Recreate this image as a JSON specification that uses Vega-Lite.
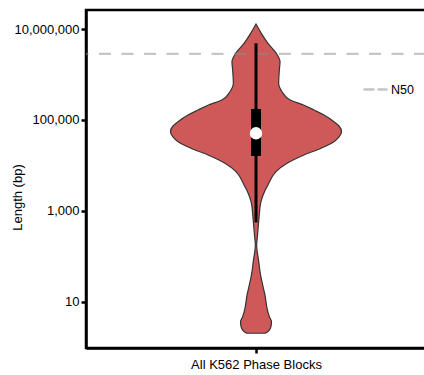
{
  "$schema": "https://vega.github.io/schema/vega-lite/v6.json",
  "width": 340,
  "height": 338,
  "autosize": "none",
  "padding": {"left": 86, "top": 10, "right": 0, "bottom": 27},
  "config": {
    "font": "Liberation Sans",
    "view": {"stroke": "black", "strokeWidth": 2.5},
    "axis": {
      "domainColor": "black", "domainWidth": 2.5, "tickColor": "black", "tickWidth": 2.5, "tickSize": 5,
      "labelColor": "black", "labelFontSize": 13, "titleFontSize": 13, "titleFontWeight": "normal",
      "titleColor": "black", "grid": false, "labelFont": "Liberation Sans", "titleFont": "Liberation Sans"
    },
    "legend": {"labelFont": "Liberation Sans", "labelColor": "black"}
  },
  "datasets": {
    "violin": [
      {"length": 12880000, "density": 0.0},
      {"length": 8040000, "density": 0.062},
      {"length": 4840000, "density": 0.140},
      {"length": 2920000, "density": 0.237},
      {"length": 1906000, "density": 0.281},
      {"length": 1253000, "density": 0.273},
      {"length": 639000, "density": 0.265},
      {"length": 417000, "density": 0.305},
      {"length": 274000, "density": 0.400},
      {"length": 213000, "density": 0.555},
      {"length": 165000, "density": 0.678},
      {"length": 128200, "density": 0.795},
      {"length": 91300, "density": 0.912},
      {"length": 73400, "density": 0.971},
      {"length": 55000, "density": 1.0},
      {"length": 42100, "density": 0.971},
      {"length": 33100, "density": 0.912},
      {"length": 23700, "density": 0.760},
      {"length": 16900, "density": 0.561},
      {"length": 11100, "density": 0.363},
      {"length": 7252, "density": 0.234},
      {"length": 4369, "density": 0.158},
      {"length": 3696, "density": 0.140},
      {"length": 2632, "density": 0.099},
      {"length": 1586, "density": 0.058},
      {"length": 694, "density": 0.035},
      {"length": 293, "density": 0.018},
      {"length": 177, "density": 0.008},
      {"length": 75.9, "density": 0.032},
      {"length": 38.7, "density": 0.053},
      {"length": 23.3, "density": 0.078},
      {"length": 14.0, "density": 0.105},
      {"length": 7.16, "density": 0.129},
      {"length": 4.68, "density": 0.156},
      {"length": 3.63, "density": 0.181},
      {"length": 2.82, "density": 0.175},
      {"length": 2.19, "density": 0.137},
      {"length": 2.02, "density": 0.105}
    ],
    "stats": [
      {"q1": 16100, "q3": 174000, "median": 50700, "lo": 558, "hi": 4840000}
    ],
    "n50": [
      {"label": "N50", "length": 2850000}
    ]
  },
  "layer": [
    {
      "data": {"name": "violin"},
      "transform": [{"calculate": "-datum.density", "as": "neg"}],
      "mark": {"type": "area", "orient": "horizontal", "interpolate": "monotone", "color": "#CF5959", "stroke": "#333333", "strokeWidth": 1.2},
      "encoding": {
        "y": {"field": "length", "type": "quantitative", "title": "Length (bp)",
          "scale": {"type": "log", "domain": [0.957, 26200000], "nice": false},
          "axis": {"values": [10, 1000, 100000, 10000000], "format": ",", "labelPadding": 2, "titleX": -65, "titleY": 187, "titleBaseline": "alphabetic"}},
        "x": {"field": "neg", "type": "quantitative", "title": null,
          "scale": {"domain": [-1.988, 1.988], "nice": false, "zero": false},
          "axis": {"values": [0], "labelExpr": "'All K562 Phase Blocks'", "labelPadding": 5, "title": null}},
        "x2": {"field": "density"}
      }
    },
    {
      "data": {"name": "n50"},
      "mark": {"type": "rule", "strokeDash": [12, 10.5], "strokeWidth": 2.2, "opacity": 0.5},
      "encoding": {
        "y": {"field": "length", "type": "quantitative", "title": "Length (bp)"},
        "color": {"field": "label", "type": "nominal",
          "scale": {"range": ["#8c8c8c"]},
          "legend": {"orient": "none", "legendX": 276, "legendY": 66, "title": null, "symbolType": "stroke",
            "symbolSize": 576, "symbolStrokeWidth": 2.5, "symbolDash": [11, 3], "labelFontSize": 12.5,
            "labelOffset": 2, "padding": 0, "symbolOpacity": 0.5}}
      }
    },
    {
      "data": {"name": "stats"},
      "mark": {"type": "rule", "color": "black", "strokeWidth": 3},
      "encoding": {
        "x": {"datum": 0, "type": "quantitative"},
        "y": {"field": "lo", "type": "quantitative", "title": "Length (bp)"},
        "y2": {"field": "hi"}
      }
    },
    {
      "data": {"name": "stats"},
      "mark": {"type": "rule", "color": "black", "strokeWidth": 10, "strokeCap": "butt"},
      "encoding": {
        "x": {"datum": 0, "type": "quantitative"},
        "y": {"field": "q1", "type": "quantitative", "title": "Length (bp)"},
        "y2": {"field": "q3"}
      }
    },
    {
      "data": {"name": "stats"},
      "mark": {"type": "point", "filled": true, "color": "white", "size": 154, "opacity": 1},
      "encoding": {
        "x": {"datum": 0, "type": "quantitative"},
        "y": {"field": "median", "type": "quantitative", "title": "Length (bp)"}
      }
    }
  ]
}
